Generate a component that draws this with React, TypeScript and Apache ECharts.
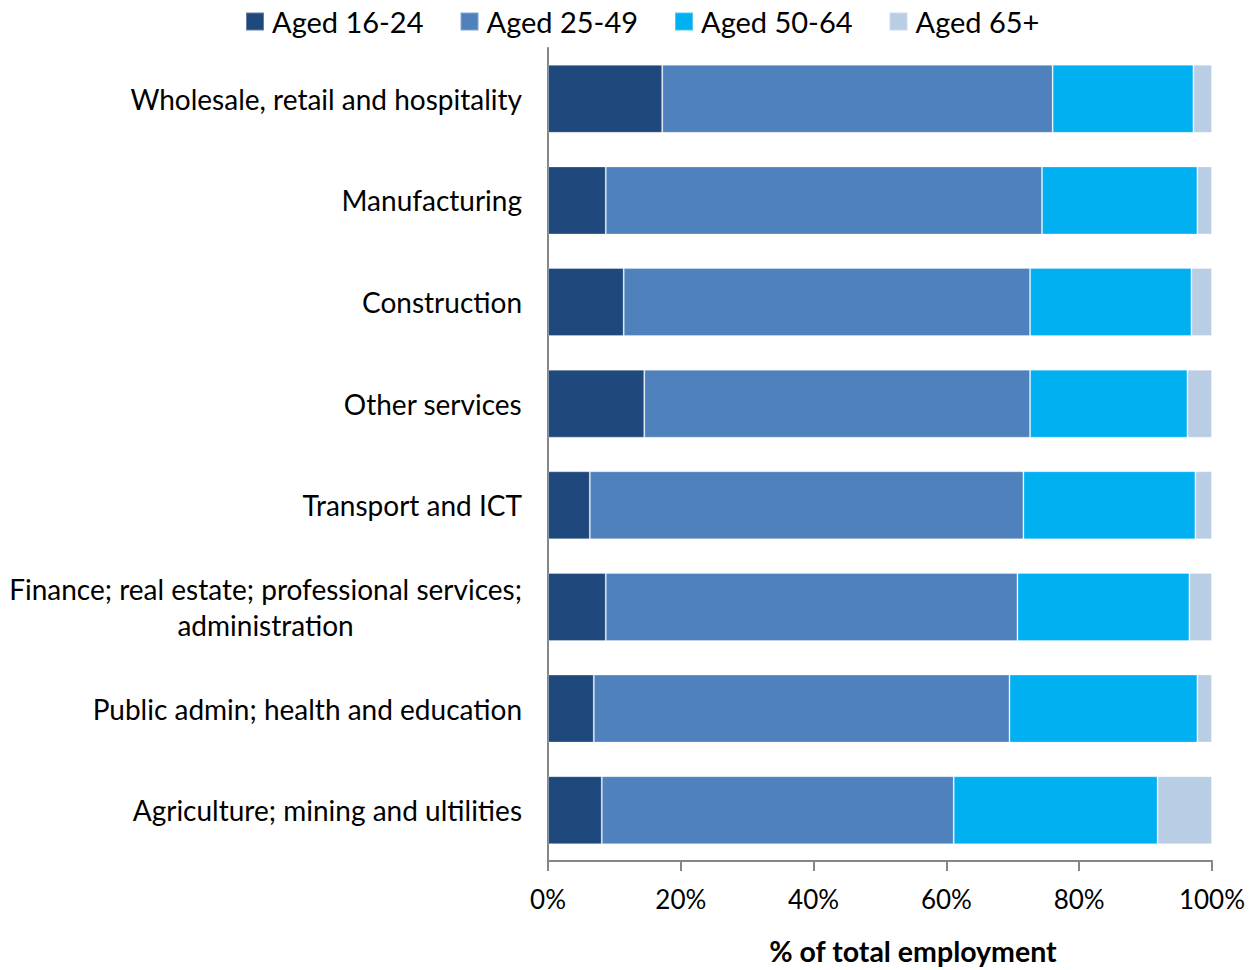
import React, { useEffect, useRef } from "react";
import * as echarts from "echarts";

const categories = [
  "Wholesale, retail and hospitality",
  "Manufacturing",
  "Construction",
  "Other services",
  "Transport and ICT",
  "Finance; real estate; professional services;\nadministration",
  "Public admin; health and education",
  "Agriculture; mining and ultilities",
];

const seriesNames = ["Aged 16-24", "Aged 25-49", "Aged 50-64", "Aged 65+"];
const aged16to24 = [17.2, 8.7, 11.4, 14.5, 6.3, 8.7, 6.9, 8.1];
const aged25to49 = [58.8, 65.7, 61.2, 58.1, 65.3, 62.0, 62.6, 53.0];
const aged50to64 = [21.2, 23.4, 24.3, 23.7, 25.9, 25.9, 28.3, 30.7];
const aged65plus = [2.8, 2.2, 3.1, 3.7, 2.5, 3.4, 2.2, 8.2];
const colors = ["#1F497D", "#4F81BD", "#00B0F0", "#B9CDE5"];

const FONT = "Lato, 'Open Sans', sans-serif";

export default function App() {
  const ref = useRef<HTMLDivElement>(null);
  useEffect(() => {
    if (!ref.current) return;
    const chart = echarts.init(ref.current, null, { renderer: "svg" });
    const data = [aged16to24, aged25to49, aged50to64, aged65plus];
    chart.setOption({
      animation: false,
      textStyle: { fontFamily: FONT, color: "#000" },
      legend: {
        top: 2,
        left: 240,
        itemWidth: 18,
        itemHeight: 18,
        itemGap: 36,
        icon: "rect",
        textStyle: { fontFamily: FONT, fontSize: 29, color: "#000", padding: [0, 0, 0, 3] },
        data: seriesNames,
      },
      grid: { left: 548, right: 39, top: 48, bottom: 81, containLabel: false },
      xAxis: {
        type: "value",
        min: 0,
        max: 100,
        interval: 20,
        axisLine: { show: true, lineStyle: { color: "#868686", width: 2 } },
        axisTick: { show: true, length: 10, lineStyle: { color: "#868686", width: 2 } },
        splitLine: { show: false },
        axisLabel: {
          formatter: (v: number) => `${v}%`,
          fontFamily: FONT,
          fontSize: 26,
          color: "#000",
          margin: 25,
        },
        name: "% of total employment",
        nameLocation: "middle",
        nameGap: 75,
        nameTextStyle: {
          fontFamily: FONT,
          fontSize: 28.5,
          fontWeight: "bold",
          color: "#000",
          padding: [0, 0, 0, 66],
        },
      },
      yAxis: {
        type: "category",
        inverse: true,
        data: categories,
        axisLine: { show: true, lineStyle: { color: "#868686", width: 2 } },
        axisTick: { show: false },
        axisLabel: {
          fontFamily: FONT,
          fontSize: 28,
          color: "#000",
          margin: 26,
          align: "right",
          lineHeight: 36,
          formatter: (v: string) =>
            v
              .split("\n")
              .map((l) => `{c|${l}}`)
              .join("\n"),
          rich: {
            c: { align: "center", fontFamily: FONT, fontSize: 28, color: "#000", lineHeight: 36 },
          },
        },
      },
      series: seriesNames.map((name, i) => ({
        name,
        type: "bar",
        stack: "total",
        barCategoryGap: "33%",
        data: data[i],
        itemStyle: {
          color: colors[i],
          borderColor: "rgba(255,255,255,0.3)",
          borderWidth: 1,
        },
      })),
    });
    return () => chart.dispose();
  }, []);
  return (
    <div
      ref={ref}
      style={{ position: "absolute", left: 0, top: 0, width: 1251, height: 970, background: "#fff" }}
    />
  );
}
